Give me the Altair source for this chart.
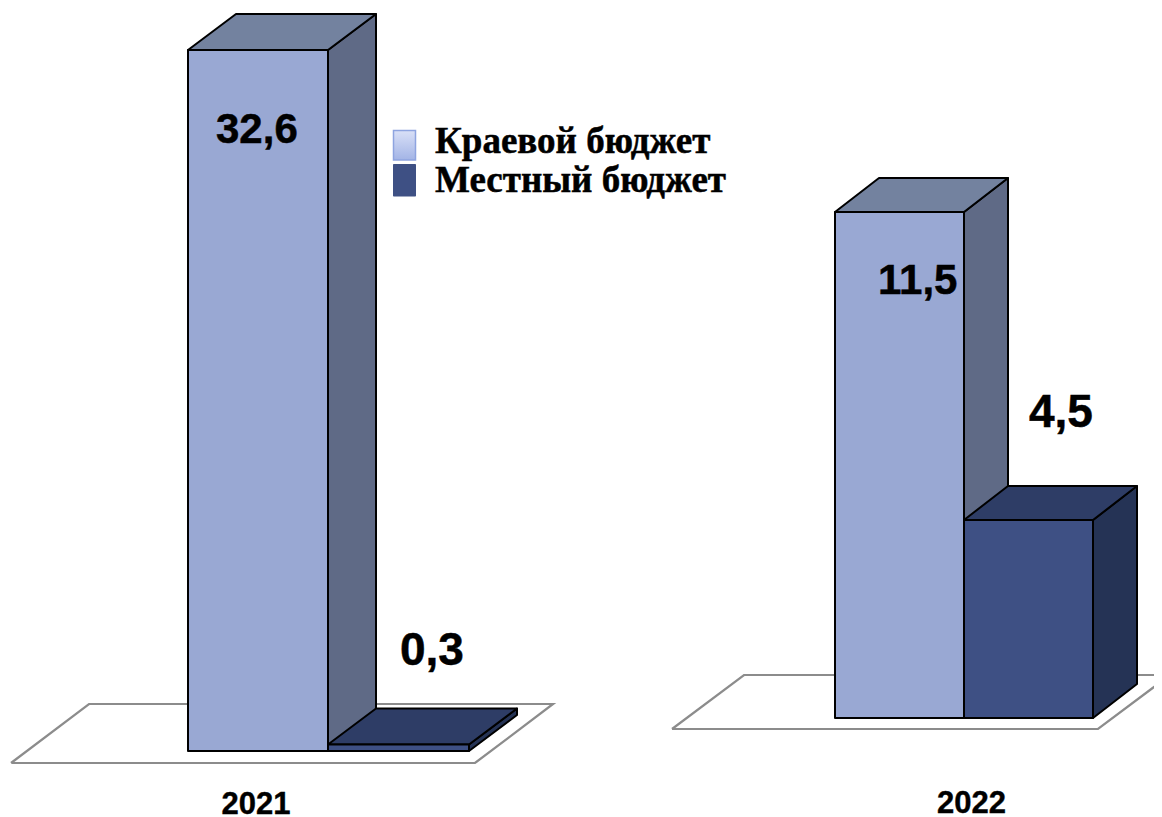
import altair as alt
import pandas as pd

# Chart values
years = ["2021", "2022"]
series = ["Краевой бюджет", "Местный бюджет"]
values_2021 = [32.6, 0.3]
values_2022 = [11.5, 4.5]

W, H = 1146, 815
X_SCALE = alt.Scale(domain=[8, 8 + W], nice=False, zero=False)
PX_SCALE = alt.Scale(domain=[8 + H, 8], nice=False, zero=False)

FRONT = ["#99A8D3", "#3E5084"]
TOP = ["#73829F", "#2E3D66"]
SIDE = ["#5F6A86", "#253355"]

# group layout: bar left edges, bar width, baseline pixel, pixels per unit, depth
GROUPS = [
    dict(vals=values_2021, lefts=[188, 328], w=[140, 141], base=751, ppu=701 / 32.6, dx=48, dy=36),
    dict(vals=values_2022, lefts=[835, 964], w=[129, 129], base=718, ppu=506 / 11.5, dx=44, dy=34),
]
FLOORS = [
    [(11, 763), (89, 704), (553, 704), (475, 763), (11, 763)],
    [(672, 729), (744, 675), (1170, 675), (1098, 729), (672, 729)],
]

def xenc(f="x"):
    return alt.X(f"{f}:Q", scale=X_SCALE, axis=None)

layers = []

# floors
for pts in FLOORS:
    df = pd.DataFrame({"x": [p[0] for p in pts], "y": [p[1] for p in pts], "o": range(len(pts))})
    layers.append(
        alt.Chart(df).mark_line(color="#8C8C8C", strokeWidth=2.2, clip=False).encode(
            x=xenc(), y=alt.Y("y:Q", scale=PX_SCALE, axis=None), order="o:Q"
        )
    )

STROKE = dict(stroke="#000000", strokeWidth=2, strokeJoin="round")

for g in GROUPS:
    scale = alt.Scale(
        domain=[(g["base"] - (8 + H)) / g["ppu"], (g["base"] - 8) / g["ppu"]],
        nice=False, zero=False,
    )
    depth = g["dy"] / g["ppu"]
    for i, v in enumerate(g["vals"]):
        x0, x1 = g["lefts"][i], g["lefts"][i] + g["w"][i]
        dx = g["dx"]
        side = pd.DataFrame({"x": [x1, x1 + dx], "hi": [v, v + depth], "lo": [0, depth]})
        top = pd.DataFrame({
            "x": [x0, x0 + dx, x1, x1 + dx],
            "hi": [v, v + depth, v + depth, v + depth],
            "lo": [v, v, v, v + depth],
        })
        front = pd.DataFrame({"x": [x0], "x2": [x1], "hi": [v], "lo": [0]})
        for df, col in ((side, SIDE[i]), (top, TOP[i])):
            layers.append(
                alt.Chart(df).mark_area(color=col, interpolate="linear", line=False, **STROKE).encode(
                    x=xenc(),
                    y=alt.Y("hi:Q", scale=scale, axis=None),
                    y2="lo:Q",
                )
            )
        layers.append(
            alt.Chart(front).mark_rect(color=FRONT[i], **STROKE).encode(
                x=xenc(), x2="x2:Q",
                y=alt.Y("hi:Q", scale=scale, axis=None),
                y2="lo:Q",
            )
        )

def fmt(v):
    return f"{v:.1f}".replace(".", ",")

TXT = dict(align="left", baseline="alphabetic", color="#000000", stroke="#000000")

# data labels
labels = pd.DataFrame({
    "x": [216, 400, 878, 1029],
    "y": [143, 665, 294, 427],
    "t": [fmt(values_2021[0]), fmt(values_2021[1]), fmt(values_2022[0]), fmt(values_2022[1])],
    "s": [42, 46, 42, 46],
})
layers.append(
    alt.Chart(labels).mark_text(font="Liberation Sans", fontWeight="bold", strokeWidth=0.5, **TXT).encode(
        x=xenc(), y=alt.Y("y:Q", scale=PX_SCALE, axis=None),
        text="t:N", size=alt.Size("s:Q", scale=None, legend=None),
    )
)

# year labels
yr = pd.DataFrame({"x": [221.5, 937], "y": [814, 813], "t": years})
layers.append(
    alt.Chart(yr).mark_text(font="Liberation Sans", fontWeight="bold", fontSize=31, strokeWidth=0.4, **TXT).encode(
        x=xenc(), y=alt.Y("y:Q", scale=PX_SCALE, axis=None), text="t:N",
    )
)

# legend
sw = [
    pd.DataFrame({"x": [393.5], "x2": [415.5], "y": [130.5], "y2": [160]}),
    pd.DataFrame({"x": [393], "x2": [416], "y": [164], "y2": [196.5]}),
]
grad = alt.Gradient(
    gradient="linear", x1=0, x2=0, y1=0, y2=1,
    stops=[alt.GradientStop(color="#D9E0F7", offset=0), alt.GradientStop(color="#A3B4E6", offset=1)],
)
layers.append(
    alt.Chart(sw[0]).mark_rect(fill=grad, stroke="#8EA4E0", strokeWidth=1.5).encode(
        x=xenc(), x2="x2:Q", y=alt.Y("y:Q", scale=PX_SCALE, axis=None), y2="y2:Q",
    )
)
layers.append(
    alt.Chart(sw[1]).mark_rect(color=FRONT[1], cornerRadius=1).encode(
        x=xenc(), x2="x2:Q", y=alt.Y("y:Q", scale=PX_SCALE, axis=None), y2="y2:Q",
    )
)
leg = pd.DataFrame({"x": [435, 435], "y": [153, 192], "t": series})
layers.append(
    alt.Chart(leg).mark_text(font="Liberation Serif", fontWeight="bold", fontSize=37, strokeWidth=0.5, **TXT).encode(
        x=xenc(), y=alt.Y("y:Q", scale=PX_SCALE, axis=None), text="t:N",
    )
)

chart = (
    alt.layer(*layers)
    .resolve_scale(y="independent")
    .properties(width=W, height=H, padding=0, autosize=alt.AutoSizeParams(type="none"), background="white")
    .configure_view(stroke=None)
)
chart.save("out.html", embed_options={"renderer": "svg", "actions": False})
